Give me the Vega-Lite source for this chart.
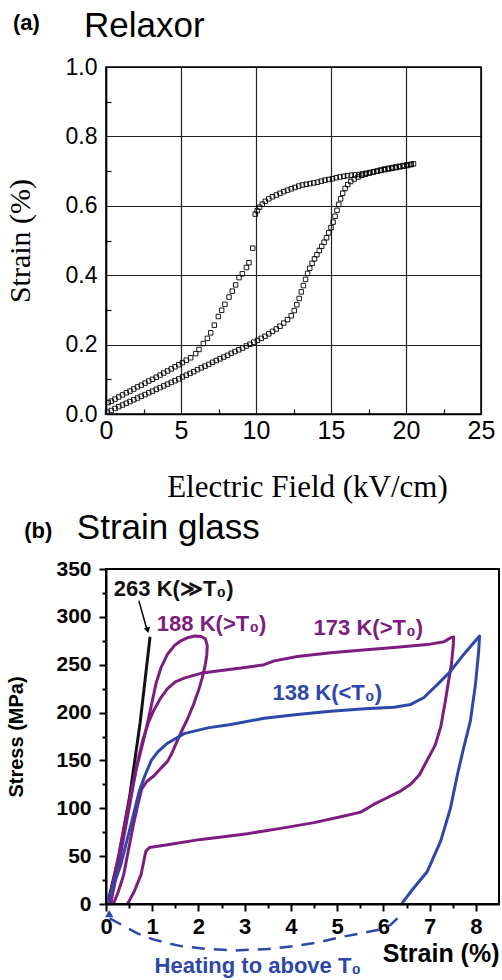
{
  "$schema": "https://vega.github.io/schema/vega-lite/v6.json",
  "background": "white",
  "padding": {"left": 5, "top": 9, "right": 2, "bottom": 2},
  "bounds": "flush",
  "spacing": 155,
  "config": {
    "view": {"stroke": null},
    "axis": {"labelColor": "black", "titleColor": "black", "domainColor": "black", "tickColor": "black"}
  },
  "datasets": {
    "relaxor": [
      {"b":"up","E":0.10,"S":0.005},{"b":"up","E":0.35,"S":0.010},{"b":"up","E":0.60,"S":0.016},{"b":"up","E":0.85,"S":0.021},{"b":"up","E":1.10,"S":0.026},{"b":"up","E":1.35,"S":0.031},{"b":"up","E":1.60,"S":0.036},{"b":"up","E":1.85,"S":0.041},{"b":"up","E":2.10,"S":0.046},{"b":"up","E":2.35,"S":0.051},{"b":"up","E":2.60,"S":0.056},{"b":"up","E":2.85,"S":0.061},{"b":"up","E":3.10,"S":0.066},{"b":"up","E":3.35,"S":0.071},{"b":"up","E":3.60,"S":0.076},{"b":"up","E":3.85,"S":0.081},{"b":"up","E":4.10,"S":0.086},{"b":"up","E":4.35,"S":0.091},{"b":"up","E":4.60,"S":0.096},{"b":"up","E":4.85,"S":0.101},{"b":"up","E":5.10,"S":0.107},{"b":"up","E":5.35,"S":0.112},{"b":"up","E":5.60,"S":0.117},{"b":"up","E":5.85,"S":0.122},{"b":"up","E":6.10,"S":0.128},{"b":"up","E":6.35,"S":0.133},{"b":"up","E":6.60,"S":0.138},{"b":"up","E":6.85,"S":0.143},{"b":"up","E":7.10,"S":0.149},{"b":"up","E":7.35,"S":0.154},{"b":"up","E":7.60,"S":0.159},{"b":"up","E":7.85,"S":0.164},{"b":"up","E":8.10,"S":0.169},{"b":"up","E":8.35,"S":0.175},{"b":"up","E":8.60,"S":0.180},{"b":"up","E":8.85,"S":0.185},{"b":"up","E":9.10,"S":0.190},{"b":"up","E":9.35,"S":0.196},{"b":"up","E":9.60,"S":0.201},{"b":"up","E":9.85,"S":0.207},{"b":"up","E":10.10,"S":0.212},{"b":"up","E":10.35,"S":0.218},{"b":"up","E":10.60,"S":0.224},{"b":"up","E":10.85,"S":0.231},{"b":"up","E":11.10,"S":0.238},{"b":"up","E":11.35,"S":0.245},{"b":"up","E":11.60,"S":0.253},{"b":"up","E":11.85,"S":0.262},{"b":"up","E":12.10,"S":0.272},{"b":"up","E":12.35,"S":0.283},{"b":"up","E":12.55,"S":0.298},{"b":"up","E":12.72,"S":0.315},{"b":"up","E":12.88,"S":0.333},{"b":"up","E":13.02,"S":0.352},{"b":"up","E":13.16,"S":0.370},{"b":"up","E":13.30,"S":0.388},{"b":"up","E":13.44,"S":0.405},{"b":"up","E":13.58,"S":0.420},{"b":"up","E":13.74,"S":0.434},{"b":"up","E":13.90,"S":0.447},{"b":"up","E":14.06,"S":0.459},{"b":"up","E":14.22,"S":0.471},{"b":"up","E":14.38,"S":0.483},{"b":"up","E":14.54,"S":0.495},{"b":"up","E":14.70,"S":0.508},{"b":"up","E":14.85,"S":0.522},{"b":"up","E":15.00,"S":0.537},{"b":"up","E":15.14,"S":0.553},{"b":"up","E":15.27,"S":0.570},{"b":"up","E":15.40,"S":0.587},{"b":"up","E":15.52,"S":0.604},{"b":"up","E":15.64,"S":0.620},{"b":"up","E":15.78,"S":0.636},{"b":"up","E":15.94,"S":0.650},{"b":"up","E":16.12,"S":0.661},{"b":"up","E":16.32,"S":0.670},{"b":"up","E":16.55,"S":0.677},{"b":"up","E":16.80,"S":0.683},{"b":"up","E":17.05,"S":0.688},{"b":"up","E":17.30,"S":0.691},{"b":"up","E":17.55,"S":0.694},{"b":"up","E":17.80,"S":0.697},{"b":"up","E":18.05,"S":0.700},{"b":"up","E":18.30,"S":0.703},{"b":"up","E":18.55,"S":0.706},{"b":"up","E":18.80,"S":0.708},{"b":"up","E":19.05,"S":0.710},{"b":"up","E":19.30,"S":0.712},{"b":"up","E":19.55,"S":0.714},{"b":"up","E":19.80,"S":0.716},{"b":"up","E":20.05,"S":0.718},{"b":"up","E":20.30,"S":0.719},{"b":"up","E":20.50,"S":0.721},
      {"b":"down","E":20.35,"S":0.719},{"b":"down","E":20.10,"S":0.716},{"b":"down","E":19.85,"S":0.714},{"b":"down","E":19.60,"S":0.712},{"b":"down","E":19.35,"S":0.710},{"b":"down","E":19.10,"S":0.708},{"b":"down","E":18.85,"S":0.706},{"b":"down","E":18.60,"S":0.704},{"b":"down","E":18.35,"S":0.702},{"b":"down","E":18.10,"S":0.700},{"b":"down","E":17.85,"S":0.698},{"b":"down","E":17.60,"S":0.696},{"b":"down","E":17.35,"S":0.694},{"b":"down","E":17.10,"S":0.692},{"b":"down","E":16.85,"S":0.690},{"b":"down","E":16.60,"S":0.689},{"b":"down","E":16.35,"S":0.688},{"b":"down","E":16.10,"S":0.687},{"b":"down","E":15.85,"S":0.685},{"b":"down","E":15.60,"S":0.683},{"b":"down","E":15.35,"S":0.681},{"b":"down","E":15.10,"S":0.678},{"b":"down","E":14.85,"S":0.676},{"b":"down","E":14.60,"S":0.674},{"b":"down","E":14.35,"S":0.671},{"b":"down","E":14.10,"S":0.668},{"b":"down","E":13.85,"S":0.666},{"b":"down","E":13.60,"S":0.664},{"b":"down","E":13.35,"S":0.662},{"b":"down","E":13.10,"S":0.660},{"b":"down","E":12.85,"S":0.657},{"b":"down","E":12.60,"S":0.653},{"b":"down","E":12.35,"S":0.649},{"b":"down","E":12.10,"S":0.645},{"b":"down","E":11.85,"S":0.641},{"b":"down","E":11.60,"S":0.636},{"b":"down","E":11.35,"S":0.631},{"b":"down","E":11.10,"S":0.626},{"b":"down","E":10.85,"S":0.620},{"b":"down","E":10.62,"S":0.613},{"b":"down","E":10.42,"S":0.605},{"b":"down","E":10.24,"S":0.596},{"b":"down","E":10.08,"S":0.586},{"b":"down","E":9.95,"S":0.576},{"b":"down","E":9.78,"S":0.478},{"b":"down","E":9.53,"S":0.436},{"b":"down","E":9.36,"S":0.422},{"b":"down","E":9.09,"S":0.404},{"b":"down","E":8.87,"S":0.393},{"b":"down","E":8.64,"S":0.372},{"b":"down","E":8.42,"S":0.354},{"b":"down","E":8.20,"S":0.337},{"b":"down","E":7.93,"S":0.316},{"b":"down","E":7.71,"S":0.299},{"b":"down","E":7.49,"S":0.281},{"b":"down","E":7.22,"S":0.256},{"b":"down","E":6.98,"S":0.234},{"b":"down","E":6.76,"S":0.218},{"b":"down","E":6.49,"S":0.203},{"b":"down","E":6.20,"S":0.186},{"b":"down","E":5.98,"S":0.174},{"b":"down","E":5.64,"S":0.162},{"b":"down","E":5.35,"S":0.155},{"b":"down","E":5.09,"S":0.148},{"b":"down","E":4.85,"S":0.142},{"b":"down","E":4.60,"S":0.136},{"b":"down","E":4.35,"S":0.130},{"b":"down","E":4.10,"S":0.124},{"b":"down","E":3.85,"S":0.118},{"b":"down","E":3.60,"S":0.112},{"b":"down","E":3.35,"S":0.106},{"b":"down","E":3.10,"S":0.100},{"b":"down","E":2.85,"S":0.095},{"b":"down","E":2.60,"S":0.089},{"b":"down","E":2.35,"S":0.083},{"b":"down","E":2.10,"S":0.078},{"b":"down","E":1.85,"S":0.072},{"b":"down","E":1.60,"S":0.066},{"b":"down","E":1.35,"S":0.061},{"b":"down","E":1.10,"S":0.055},{"b":"down","E":0.85,"S":0.049},{"b":"down","E":0.60,"S":0.043},{"b":"down","E":0.35,"S":0.037},{"b":"down","E":0.15,"S":0.033}
    ],
    "glass": [
      {"c":"263 K","i":1,"x":0.03,"y":0},{"c":"263 K","i":2,"x":0.28,"y":50},{"c":"263 K","i":3,"x":0.52,"y":115},{"c":"263 K","i":4,"x":0.74,"y":190},{"c":"263 K","i":5,"x":0.95,"y":278},
      {"c":"188 K","i":1,"x":0.10,"y":0},{"c":"188 K","i":2,"x":0.30,"y":48},{"c":"188 K","i":3,"x":0.50,"y":100},{"c":"188 K","i":4,"x":0.65,"y":140},{"c":"188 K","i":5,"x":0.78,"y":165},{"c":"188 K","i":6,"x":0.88,"y":185},{"c":"188 K","i":7,"x":0.97,"y":205},{"c":"188 K","i":8,"x":1.08,"y":230},{"c":"188 K","i":9,"x":1.19,"y":247},{"c":"188 K","i":10,"x":1.33,"y":261},{"c":"188 K","i":11,"x":1.48,"y":270},{"c":"188 K","i":12,"x":1.62,"y":275},{"c":"188 K","i":13,"x":1.78,"y":278.5},{"c":"188 K","i":14,"x":1.92,"y":280},{"c":"188 K","i":15,"x":2.06,"y":279.5},{"c":"188 K","i":16,"x":2.15,"y":277},{"c":"188 K","i":17,"x":2.19,"y":270},{"c":"188 K","i":18,"x":2.18,"y":260},{"c":"188 K","i":19,"x":2.14,"y":248},{"c":"188 K","i":20,"x":2.08,"y":236},{"c":"188 K","i":21,"x":2.00,"y":223},{"c":"188 K","i":22,"x":1.89,"y":208},{"c":"188 K","i":23,"x":1.76,"y":193},{"c":"188 K","i":24,"x":1.63,"y":180},{"c":"188 K","i":25,"x":1.52,"y":168},{"c":"188 K","i":26,"x":1.42,"y":157},{"c":"188 K","i":27,"x":1.33,"y":149},{"c":"188 K","i":28,"x":1.19,"y":142},{"c":"188 K","i":29,"x":1.04,"y":134},{"c":"188 K","i":30,"x":0.88,"y":128},{"c":"188 K","i":31,"x":0.77,"y":120},{"c":"188 K","i":32,"x":0.68,"y":102},{"c":"188 K","i":33,"x":0.58,"y":80},{"c":"188 K","i":34,"x":0.48,"y":55},{"c":"188 K","i":35,"x":0.38,"y":30},{"c":"188 K","i":36,"x":0.26,"y":12},{"c":"188 K","i":37,"x":0.16,"y":0},
      {"c":"173 K","i":1,"x":0.05,"y":0},{"c":"173 K","i":2,"x":0.25,"y":45},{"c":"173 K","i":3,"x":0.45,"y":95},{"c":"173 K","i":4,"x":0.60,"y":130},{"c":"173 K","i":5,"x":0.70,"y":152},{"c":"173 K","i":6,"x":0.80,"y":172},{"c":"173 K","i":7,"x":0.92,"y":190},{"c":"173 K","i":8,"x":1.04,"y":203},{"c":"173 K","i":9,"x":1.18,"y":215},{"c":"173 K","i":10,"x":1.33,"y":225},{"c":"173 K","i":11,"x":1.50,"y":232},{"c":"173 K","i":12,"x":1.69,"y":236},{"c":"173 K","i":13,"x":2.05,"y":241},{"c":"173 K","i":14,"x":2.41,"y":243.5},{"c":"173 K","i":15,"x":2.92,"y":246.5},{"c":"173 K","i":16,"x":3.42,"y":250},{"c":"173 K","i":17,"x":3.64,"y":254},{"c":"173 K","i":18,"x":4.14,"y":258.5},{"c":"173 K","i":19,"x":4.86,"y":262.5},{"c":"173 K","i":20,"x":5.50,"y":265},{"c":"173 K","i":21,"x":6.23,"y":268},{"c":"173 K","i":22,"x":6.95,"y":271},{"c":"173 K","i":23,"x":7.31,"y":274},{"c":"173 K","i":24,"x":7.45,"y":278},{"c":"173 K","i":25,"x":7.52,"y":279},{"c":"173 K","i":26,"x":7.51,"y":270},{"c":"173 K","i":27,"x":7.47,"y":250},{"c":"173 K","i":28,"x":7.42,"y":236},{"c":"173 K","i":29,"x":7.34,"y":212},{"c":"173 K","i":30,"x":7.24,"y":185},{"c":"173 K","i":31,"x":7.12,"y":166},{"c":"173 K","i":32,"x":7.00,"y":155},{"c":"173 K","i":33,"x":6.90,"y":146},{"c":"173 K","i":34,"x":6.78,"y":135},{"c":"173 K","i":35,"x":6.59,"y":125},{"c":"173 K","i":36,"x":6.37,"y":118},{"c":"173 K","i":37,"x":6.08,"y":111},{"c":"173 K","i":38,"x":5.79,"y":104},{"c":"173 K","i":39,"x":5.51,"y":96},{"c":"173 K","i":40,"x":5.15,"y":92},{"c":"173 K","i":41,"x":4.50,"y":85},{"c":"173 K","i":42,"x":3.78,"y":79},{"c":"173 K","i":43,"x":3.06,"y":73.5},{"c":"173 K","i":44,"x":2.50,"y":70},{"c":"173 K","i":45,"x":2.05,"y":67.5},{"c":"173 K","i":46,"x":1.33,"y":62},{"c":"173 K","i":47,"x":0.94,"y":59},{"c":"173 K","i":48,"x":0.86,"y":55},{"c":"173 K","i":49,"x":0.76,"y":31},{"c":"173 K","i":50,"x":0.61,"y":13},{"c":"173 K","i":51,"x":0.50,"y":3},{"c":"173 K","i":52,"x":0.46,"y":0},
      {"c":"138 K","i":1,"x":0.00,"y":0},{"c":"138 K","i":2,"x":0.06,"y":5},{"c":"138 K","i":3,"x":0.32,"y":41},{"c":"138 K","i":4,"x":0.54,"y":83},{"c":"138 K","i":5,"x":0.72,"y":118},{"c":"138 K","i":6,"x":0.84,"y":134},{"c":"138 K","i":7,"x":0.98,"y":150},{"c":"138 K","i":8,"x":1.12,"y":159},{"c":"138 K","i":9,"x":1.33,"y":168},{"c":"138 K","i":10,"x":1.69,"y":178},{"c":"138 K","i":11,"x":2.20,"y":184},{"c":"138 K","i":12,"x":2.70,"y":187.5},{"c":"138 K","i":13,"x":3.42,"y":194},{"c":"138 K","i":14,"x":4.14,"y":198},{"c":"138 K","i":15,"x":4.86,"y":201.5},{"c":"138 K","i":16,"x":5.60,"y":204},{"c":"138 K","i":17,"x":6.23,"y":205.5},{"c":"138 K","i":18,"x":6.59,"y":208.5},{"c":"138 K","i":19,"x":6.87,"y":215.5},{"c":"138 K","i":20,"x":7.16,"y":229},{"c":"138 K","i":21,"x":7.45,"y":243},{"c":"138 K","i":22,"x":7.74,"y":261},{"c":"138 K","i":23,"x":8.06,"y":279},{"c":"138 K","i":24,"x":8.08,"y":280},{"c":"138 K","i":25,"x":8.06,"y":264},{"c":"138 K","i":26,"x":7.99,"y":229},{"c":"138 K","i":27,"x":7.88,"y":191},{"c":"138 K","i":28,"x":7.72,"y":160},{"c":"138 K","i":29,"x":7.60,"y":135},{"c":"138 K","i":30,"x":7.45,"y":100},{"c":"138 K","i":31,"x":7.24,"y":66},{"c":"138 K","i":32,"x":6.95,"y":34},{"c":"138 K","i":33,"x":6.66,"y":17},{"c":"138 K","i":34,"x":6.42,"y":2},{"c":"138 K","i":35,"x":6.40,"y":0}
    ],
    "heat": [
      {"i":1,"x":0.08,"y":-15},{"i":2,"x":0.39,"y":-23},{"i":3,"x":0.69,"y":-31},{"i":4,"x":1.02,"y":-37},{"i":5,"x":1.34,"y":-41},{"i":6,"x":1.62,"y":-44},{"i":7,"x":2.2,"y":-47},{"i":8,"x":2.8,"y":-48.5},{"i":9,"x":3.5,"y":-47},{"i":10,"x":4.06,"y":-44},{"i":11,"x":4.6,"y":-40},{"i":12,"x":5.14,"y":-34},{"i":13,"x":5.57,"y":-30},{"i":14,"x":5.9,"y":-27},{"i":15,"x":6.15,"y":-22},{"i":16,"x":6.3,"y":-15},{"i":17,"x":6.41,"y":-7}
    ],
    "pointer": [
      {"x":0.71,"y":317},{"x":0.89,"y":286}
    ],
    "labels": [
      {"c":"263 K","x":0.17,"y":329,"t":"263 K(≫T₀)"},
      {"c":"188 K","x":1.1,"y":293,"t":"188 K(>T₀)"},
      {"c":"173 K","x":4.49,"y":288,"t":"173 K(>T₀)"},
      {"c":"138 K","x":3.6,"y":220,"t":"138 K(<T₀)"},
      {"c":"heat","x":1.05,"y":-65,"t":"Heating to above T₀"}
    ]
  },
  "vconcat": [
    {
      "width": 375,
      "height": 347,
      "resolve": {"axis": {"x": "independent", "y": "independent"}},
      "layer": [
        {
          "data": {"name": "relaxor"},
          "mark": {"type": "point", "shape": "square", "filled": false, "stroke": "black", "strokeWidth": 0.9, "size": 20, "opacity": 1},
          "encoding": {
            "x": {"field": "E", "type": "quantitative", "scale": {"domain": [0, 25], "nice": false, "zero": false},
              "axis": {"values": [0, 5, 10, 15, 20, 25], "grid": true, "gridColor": "#222", "gridWidth": 1.2, "gridOpacity": 1, "ticks": false, "domainWidth": 1.5, "labelFont": "Liberation Sans", "labelFontSize": 25, "labelPadding": 4, "labelFlush": false,
                "title": "Electric Field (kV/cm)", "titleFont": "Liberation Serif", "titleFontSize": 31, "titleFontWeight": "normal", "titlePadding": 29, "titleX": 201}},
            "y": {"field": "S", "type": "quantitative", "scale": {"domain": [0, 1], "nice": false, "zero": false},
              "axis": {"values": [0, 0.2, 0.4, 0.6, 0.8, 1.0], "format": ".1f", "grid": true, "gridColor": "#222", "gridWidth": 1.2, "gridOpacity": 1, "ticks": false, "domainWidth": 1.5, "labelFont": "Liberation Sans", "labelFontSize": 23, "labelPadding": 9, "labelFlush": false,
                "title": "Strain (%)", "titleFont": "Liberation Serif", "titleFontSize": 30, "titleFontWeight": "normal", "titlePadding": 30}},
            "detail": {"field": "b"}
          }
        },
        {
          "data": {"values": [{}]},
          "mark": {"type": "text", "font": "Liberation Sans", "fontWeight": "bold", "fontSize": 22, "align": "left", "baseline": "middle", "color": "black"},
          "encoding": {
            "x": {"datum": -6.2, "type": "quantitative", "scale": {"domain": [0, 25], "nice": false, "zero": false},
              "axis": {"values": [2.5, 7.5, 12.5, 17.5, 22.5], "labels": false, "domain": false, "grid": false, "ticks": true, "tickSize": -5, "tickWidth": 1.2, "title": null, "orient": "bottom"}},
            "y": {"datum": 1.127, "type": "quantitative", "scale": {"domain": [0, 1], "nice": false, "zero": false},
              "axis": {"values": [0.1, 0.3, 0.5, 0.7, 0.9], "labels": false, "domain": false, "grid": false, "ticks": true, "tickSize": -5, "tickWidth": 1.2, "title": null, "orient": "left"}},
            "text": {"value": "(a)"}
          }
        },
        {
          "data": {"values": [{}]},
          "mark": {"type": "text", "font": "Liberation Sans", "fontWeight": "normal", "fontSize": 35, "align": "left", "baseline": "alphabetic", "color": "black"},
          "encoding": {
            "x": {"datum": -1.47, "type": "quantitative", "scale": {"domain": [0, 25], "nice": false, "zero": false}, "axis": null},
            "y": {"datum": 1.086, "type": "quantitative", "scale": {"domain": [0, 1], "nice": false, "zero": false}, "axis": null},
            "text": {"value": "Relaxor"}
          }
        },
        {
          "data": {"values": [{}]},
          "mark": {"type": "rect", "fill": null, "stroke": "black", "strokeWidth": 1.5},
          "encoding": {
            "x": {"datum": 0, "type": "quantitative", "scale": {"domain": [0, 25], "nice": false, "zero": false}, "axis": null},
            "x2": {"datum": 25},
            "y": {"datum": 0, "type": "quantitative", "scale": {"domain": [0, 1], "nice": false, "zero": false}, "axis": null},
            "y2": {"datum": 1}
          }
        }
      ]
    },
    {
      "width": 393,
      "height": 335,
      "resolve": {"axis": {"x": "independent", "y": "independent"}},
      "layer": [
        {
          "data": {"name": "glass"},
          "mark": {"type": "line", "strokeWidth": 3, "strokeJoin": "round", "strokeCap": "round"},
          "encoding": {
            "x": {"field": "x", "type": "quantitative", "scale": {"domain": [0, 8.5], "nice": false, "zero": false},
              "axis": {"values": [0, 1, 2, 3, 4, 5, 6, 7, 8], "grid": false, "tickSize": 7, "tickWidth": 2, "domainWidth": 2, "labelFont": "Liberation Sans", "labelFontWeight": "bold", "labelFontSize": 22, "labelPadding": 5, "labelFlush": false,
                "title": "Strain (%)", "titleFont": "Liberation Sans", "titleFontWeight": "bold", "titleFontSize": 25, "titleAnchor": "end", "titlePadding": 4}},
            "y": {"field": "y", "type": "quantitative", "scale": {"domain": [0, 350], "nice": false, "zero": false},
              "axis": {"values": [0, 50, 100, 150, 200, 250, 300, 350], "grid": false, "tickSize": 7, "tickWidth": 2, "domainWidth": 2, "labelFont": "Liberation Sans", "labelFontWeight": "bold", "labelFontSize": 21, "labelPadding": 8, "labelFlush": false,
                "title": "Stress (MPa)", "titleFont": "Liberation Sans", "titleFontWeight": "bold", "titleFontSize": 20, "titlePadding": 29}},
            "color": {"field": "c", "type": "nominal", "scale": {"domain": ["263 K", "188 K", "173 K", "138 K", "heat"], "range": ["#111111", "#7d1d80", "#7d1d80", "#2d48a8", "#2d48a8"]}, "legend": null},
            "order": {"field": "i", "type": "quantitative"}
          }
        },
        {
          "data": {"name": "heat"},
          "mark": {"type": "line", "strokeWidth": 2.5, "strokeDash": [13, 9], "color": "#2d48a8"},
          "encoding": {
            "x": {"field": "x", "type": "quantitative", "scale": {"domain": [0, 8.5], "nice": false, "zero": false},
              "axis": {"values": [0.5, 1.5, 2.5, 3.5, 4.5, 5.5, 6.5, 7.5], "labels": false, "domain": false, "grid": false, "tickSize": 4, "tickWidth": 2, "title": null, "orient": "bottom"}},
            "y": {"field": "y", "type": "quantitative", "scale": {"domain": [0, 350], "nice": false, "zero": false},
              "axis": {"values": [25, 75, 125, 175, 225, 275, 325], "labels": false, "domain": false, "grid": false, "tickSize": 4, "tickWidth": 2, "title": null, "orient": "left"}},
            "order": {"field": "i", "type": "quantitative"}
          }
        },
        {
          "data": {"name": "pointer"},
          "mark": {"type": "line", "strokeWidth": 1.5, "color": "black"},
          "encoding": {
            "x": {"field": "x", "type": "quantitative", "scale": {"domain": [0, 8.5], "nice": false, "zero": false}, "axis": null},
            "y": {"field": "y", "type": "quantitative", "scale": {"domain": [0, 350], "nice": false, "zero": false}, "axis": null}
          }
        },
        {
          "data": {"values": [{}]},
          "mark": {"type": "point", "shape": "triangle-down", "filled": true, "color": "black", "size": 45, "angle": 346, "opacity": 1},
          "encoding": {
            "x": {"datum": 0.9, "type": "quantitative", "scale": {"domain": [0, 8.5], "nice": false, "zero": false}, "axis": null},
            "y": {"datum": 286, "type": "quantitative", "scale": {"domain": [0, 350], "nice": false, "zero": false}, "axis": null}
          }
        },
        {
          "data": {"values": [{}]},
          "mark": {"type": "point", "shape": "triangle-up", "filled": true, "color": "#2d48a8", "size": 70, "opacity": 1},
          "encoding": {
            "x": {"datum": 0.07, "type": "quantitative", "scale": {"domain": [0, 8.5], "nice": false, "zero": false}, "axis": null},
            "y": {"datum": -10, "type": "quantitative", "scale": {"domain": [0, 350], "nice": false, "zero": false}, "axis": null}
          }
        },
        {
          "data": {"name": "labels"},
          "mark": {"type": "text", "font": "Liberation Sans", "fontWeight": "bold", "fontSize": 22, "align": "left", "baseline": "middle"},
          "encoding": {
            "x": {"field": "x", "type": "quantitative", "scale": {"domain": [0, 8.5], "nice": false, "zero": false}, "axis": null},
            "y": {"field": "y", "type": "quantitative", "scale": {"domain": [0, 350], "nice": false, "zero": false}, "axis": null},
            "text": {"field": "t"},
            "color": {"field": "c", "type": "nominal", "scale": {"domain": ["263 K", "188 K", "173 K", "138 K", "heat"], "range": ["#111111", "#7d1d80", "#7d1d80", "#2d48a8", "#2d48a8"]}, "legend": null}
          }
        },
        {
          "data": {"values": [{}]},
          "mark": {"type": "text", "font": "Liberation Sans", "fontWeight": "bold", "fontSize": 22, "align": "left", "baseline": "middle", "color": "black"},
          "encoding": {
            "x": {"datum": -1.77, "type": "quantitative", "scale": {"domain": [0, 8.5], "nice": false, "zero": false}, "axis": null},
            "y": {"datum": 390, "type": "quantitative", "scale": {"domain": [0, 350], "nice": false, "zero": false}, "axis": null},
            "text": {"value": "(b)"}
          }
        },
        {
          "data": {"values": [{}]},
          "mark": {"type": "text", "font": "Liberation Sans", "fontWeight": "normal", "fontSize": 35, "align": "left", "baseline": "alphabetic", "color": "black"},
          "encoding": {
            "x": {"datum": -0.63, "type": "quantitative", "scale": {"domain": [0, 8.5], "nice": false, "zero": false}, "axis": null},
            "y": {"datum": 381, "type": "quantitative", "scale": {"domain": [0, 350], "nice": false, "zero": false}, "axis": null},
            "text": {"value": "Strain glass"}
          }
        },
        {
          "data": {"values": [{}]},
          "mark": {"type": "rect", "fill": null, "stroke": "black", "strokeWidth": 2},
          "encoding": {
            "x": {"datum": 0, "type": "quantitative", "scale": {"domain": [0, 8.5], "nice": false, "zero": false}, "axis": null},
            "x2": {"datum": 8.5},
            "y": {"datum": 0, "type": "quantitative", "scale": {"domain": [0, 350], "nice": false, "zero": false}, "axis": null},
            "y2": {"datum": 350}
          }
        }
      ]
    }
  ]
}
